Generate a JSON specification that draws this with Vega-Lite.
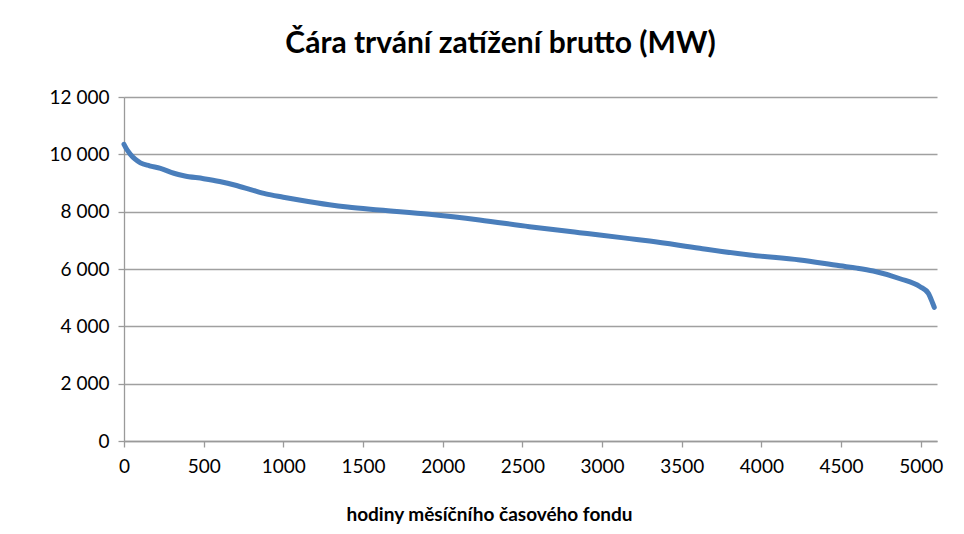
{
  "$schema": "https://vega.github.io/schema/vega-lite/v6.json",
  "width": 813,
  "height": 344,
  "autosize": {"type": "none"},
  "padding": {"left": 124, "top": 97, "right": 27, "bottom": 93},
  "background": "white",
  "title": {
    "text": "Čára trvání zatížení brutto (MW)",
    "font": "Lato",
    "fontSize": 30,
    "fontWeight": "bold",
    "color": "#000000",
    "anchor": "middle",
    "frame": "group",
    "dx": -30,
    "offset": 5,
    "baseline": "alphabetic"
  },
  "data": {
    "values": [
      {"hodina": 0, "mw": 10350},
      {"hodina": 20, "mw": 10150},
      {"hodina": 40, "mw": 10000},
      {"hodina": 70, "mw": 9830},
      {"hodina": 103, "mw": 9700},
      {"hodina": 160, "mw": 9600},
      {"hodina": 229, "mw": 9510},
      {"hodina": 313, "mw": 9340},
      {"hodina": 375, "mw": 9254},
      {"hodina": 500, "mw": 9150},
      {"hodina": 600, "mw": 9050},
      {"hodina": 700, "mw": 8920},
      {"hodina": 800, "mw": 8760},
      {"hodina": 890, "mw": 8620},
      {"hodina": 1000, "mw": 8505},
      {"hodina": 1100, "mw": 8406},
      {"hodina": 1288, "mw": 8240},
      {"hodina": 1403, "mw": 8160},
      {"hodina": 1602, "mw": 8057},
      {"hodina": 1917, "mw": 7906},
      {"hodina": 2231, "mw": 7709},
      {"hodina": 2545, "mw": 7475},
      {"hodina": 2859, "mw": 7266},
      {"hodina": 2985, "mw": 7185},
      {"hodina": 3173, "mw": 7060},
      {"hodina": 3299, "mw": 6976},
      {"hodina": 3613, "mw": 6721},
      {"hodina": 3927, "mw": 6488},
      {"hodina": 4242, "mw": 6313},
      {"hodina": 4493, "mw": 6110},
      {"hodina": 4600, "mw": 6030},
      {"hodina": 4702, "mw": 5930},
      {"hodina": 4870, "mw": 5660},
      {"hodina": 4996, "mw": 5382},
      {"hodina": 5048, "mw": 5150},
      {"hodina": 5075, "mw": 4803},
      {"hodina": 5085, "mw": 4663}
    ]
  },
  "mark": {"type": "line", "color": "#4a7ebb", "strokeWidth": 5, "interpolate": "monotone", "strokeCap": "round", "clip": false},
  "encoding": {
    "x": {
      "field": "hodina",
      "type": "quantitative",
      "scale": {"domain": [0, 5102], "nice": false, "zero": false},
      "axis": {
        "values": [0, 500, 1000, 1500, 2000, 2500, 3000, 3500, 4000, 4500, 5000],
        "format": "d",
        "grid": false,
        "title": "hodiny měsíčního časového fondu",
        "titleX": 365,
        "titleY": 79,
        "titleBaseline": "alphabetic",
        "titleFont": "Lato",
        "titleFontSize": 19,
        "titleFontWeight": "bold",
        "titleColor": "#000000",
        "labelPadding": 10,
        "labelFlush": false
      }
    },
    "y": {
      "field": "mw",
      "type": "quantitative",
      "scale": {"domain": [0, 12000], "nice": false},
      "axis": {
        "values": [0, 2000, 4000, 6000, 8000, 10000, 12000],
        "labelExpr": "replace(format(datum.value, ','), ',', ' ')",
        "grid": true,
        "title": null,
        "labelPadding": 9
      }
    }
  },
  "config": {
    "view": {"stroke": null},
    "axis": {
      "labelFont": "Lato",
      "labelFontSize": 19,
      "labelColor": "#000000",
      "domainColor": "#9a9a9a",
      "domainWidth": 1.3,
      "tickColor": "#9a9a9a",
      "tickWidth": 1.3,
      "tickSize": 6,
      "gridColor": "#a0a0a0",
      "gridWidth": 1.3
    }
  }
}
